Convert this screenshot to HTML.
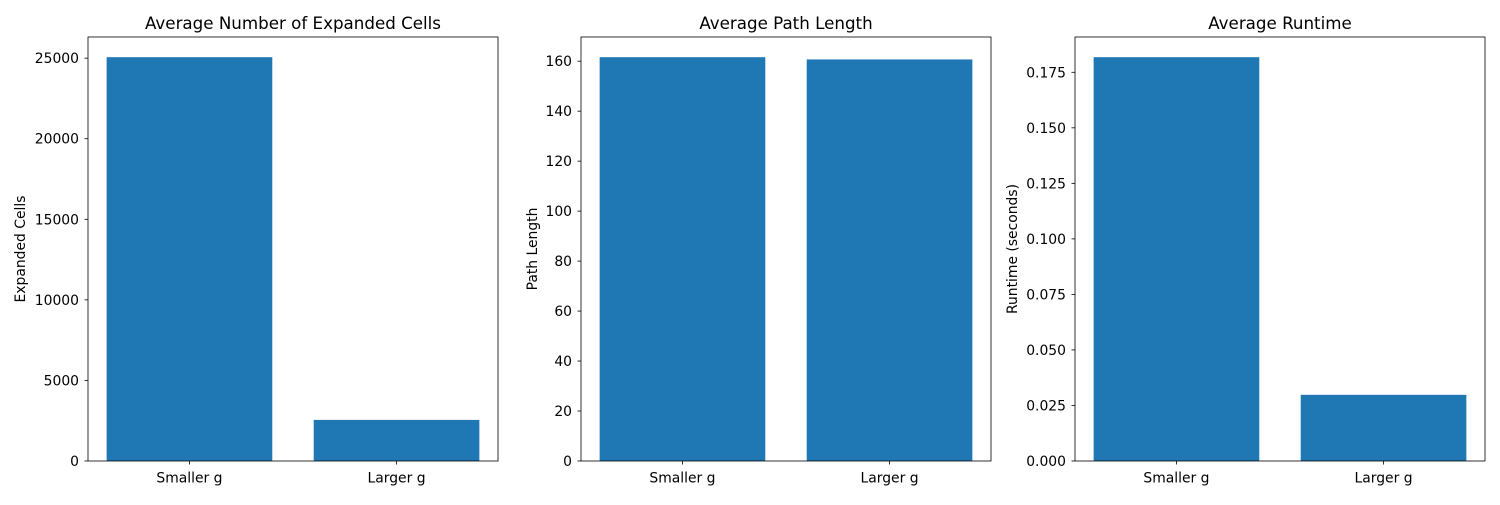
<!DOCTYPE html>
<html><head><meta charset="utf-8">
<style>
body{margin:0;background:#fff;}
svg text{font-family:"DejaVu Sans","Liberation Sans",sans-serif;fill:#000;}
</style></head>
<body>
<svg id="chart" width="1500" height="500" xmlns="http://www.w3.org/2000/svg"></svg>
<script>
const categories = ["Smaller g", "Larger g"];
const expandedValues = [25060, 2550];
const pathValues = [161.6, 160.7];
const runtimeValues = [0.1818, 0.0298];
const expandedTicks = [0, 5000, 10000, 15000, 20000, 25000];
const expandedTickLabels = ["0", "5000", "10000", "15000", "20000", "25000"];
const pathTicks = [0, 20, 40, 60, 80, 100, 120, 140, 160];
const pathTickLabels = ["0", "20", "40", "60", "80", "100", "120", "140", "160"];
const runtimeTicks = [0, 0.025, 0.05, 0.075, 0.1, 0.125, 0.15, 0.175];
const runtimeTickLabels = ["0.000", "0.025", "0.050", "0.075", "0.100", "0.125", "0.150", "0.175"];

const svg = document.getElementById('chart');
const NS = 'http://www.w3.org/2000/svg';
function mk(tag, attrs, parent) {
  const e = document.createElementNS(NS, tag);
  for (const k in attrs) e.setAttribute(k, attrs[k]);
  parent.appendChild(e);
  return e;
}
function panel(key, left, title, ylabel, values, ticks, tickLabels, labelX) {
  const g = mk('g', {}, svg);
  
  
  const top = 37, bottom = 461, width = 410;
  const ymax = Math.max(...values) * 1.05;
  const y = v => bottom - v / ymax * (bottom - top);
  const xmin = -0.49, xmax = 1.49;
  const x = v => left + (v - xmin) / (xmax - xmin) * width;
  values.forEach((v, i) => {
    const r = mk('rect', {x: x(i - 0.4), y: y(v), width: x(i + 0.4) - x(i - 0.4), height: bottom - y(v), fill: '#1f77b4'}, g);
    
    
    mk('line', {x1: x(i), x2: x(i), y1: bottom, y2: bottom + 3.5, stroke: '#000', 'stroke-width': 0.8}, g);
    const t = mk('text', {x: x(i), y: bottom + 21.5, 'font-size': 13.9, 'text-anchor': 'middle'}, g);
    t.textContent = categories[i];
    
    
  });
  ticks.forEach((tv, i) => {
    mk('line', {x1: left - 3.5, x2: left, y1: y(tv), y2: y(tv), stroke: '#000', 'stroke-width': 0.8}, g);
    const t = mk('text', {x: left - 9, y: y(tv) + 5, 'font-size': 13.9, 'text-anchor': 'end'}, g);
    t.textContent = tickLabels[i];
    
    
  });
  const f = mk('rect', {x: left, y: top, width: width, height: bottom - top, fill: 'none', stroke: '#000', 'stroke-width': 0.8}, g);
  
  
  const tt = mk('text', {x: left + width / 2, y: top - 8, 'font-size': 16.7, 'text-anchor': 'middle'}, g);
  tt.textContent = title;
  
  
  const yl = mk('text', {x: 0, y: 0, 'font-size': 13.9, 'text-anchor': 'middle', transform: 'translate(' + labelX + ',' + ((top + bottom) / 2) + ') rotate(-90)'}, g);
  yl.textContent = ylabel;
  
  
}
panel('expanded', 88, 'Average Number of Expanded Cells', 'Expanded Cells', expandedValues, expandedTicks, expandedTickLabels, 25);
panel('path', 581, 'Average Path Length', 'Path Length', pathValues, pathTicks, pathTickLabels, 537);
panel('runtime', 1075, 'Average Runtime', 'Runtime (seconds)', runtimeValues, runtimeTicks, runtimeTickLabels, 1017);
</script>
</body></html>
